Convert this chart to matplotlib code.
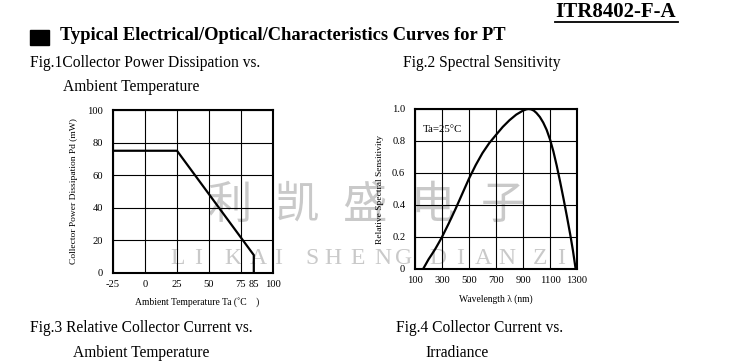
import matplotlib
matplotlib.use("Agg")
import matplotlib.pyplot as plt

W, H = 739, 364

# ---- data ----
# Fig.1 Collector power dissipation vs ambient temperature
temp = [-25, 25, 85, 85]
pd_mw = [75, 75, 11, 0]
fig1_xticks = [-25, 0, 25, 50, 75, 85, 100]
fig1_xgrid = [-25, 0, 25, 50, 75, 100]
fig1_yticks = [0, 20, 40, 60, 80, 100]

# Fig.2 Spectral sensitivity
wavelength = [160, 180, 200, 225, 250, 275, 300, 350, 400, 450, 500, 550, 600,
              650, 700, 750, 800, 850, 900, 925, 940, 960, 980, 1000, 1025,
              1050, 1075, 1100, 1125, 1150, 1175, 1200, 1225, 1250, 1270, 1290]
sensitivity = [0.0, 0.03, 0.06, 0.092, 0.125, 0.162, 0.20, 0.285, 0.375, 0.47,
               0.565, 0.65, 0.725, 0.787, 0.838, 0.888, 0.93, 0.965, 0.99,
               0.998, 1.0, 0.998, 0.99, 0.975, 0.95, 0.915, 0.87, 0.81, 0.735,
               0.645, 0.545, 0.44, 0.33, 0.215, 0.115, 0.0]
fig2_xticks = [100, 300, 500, 700, 900, 1100, 1300]
fig2_yticks = [0, 0.2, 0.4, 0.6, 0.8, 1.0]
fig2_ylabels = ["0", "0.2", "0.4", "0.6", "0.8", "1.0"]

SERIF = "Liberation Serif"
WM = "#c9c9c9"

fig = plt.figure(figsize=(W / 100, H / 100), dpi=100)


def fx(x):
    return x / W


def fy(y):
    return 1 - y / H


def axes_px(l, r, t, b):
    return fig.add_axes([fx(l), fy(b), (r - l) / W, (b - t) / H])


# ---- header ----
fig.text(fx(555), fy(12), "ITR8402-F-A", family=SERIF, weight="bold",
         fontsize=15, ha="left", va="center")
fig.add_artist(plt.Line2D([fx(555), fx(678)], [fy(21.5), fy(21.5)],
                          color="black", lw=1.3))
fig.add_artist(plt.Rectangle((fx(30), fy(45)), 19 / W, 15 / H,
                             color="black"))
fig.text(fx(60), fy(36), "Typical Electrical/Optical/Characteristics Curves for PT",
         family=SERIF, weight="bold", fontsize=13.3, ha="left", va="center")

cap = dict(family=SERIF, fontsize=11.2, ha="left", va="center")
fig.text(fx(30), fy(63), "Fig.1Collector Power Dissipation vs.", **cap)
fig.text(fx(63), fy(87), "Ambient Temperature", **cap)
fig.text(fx(403), fy(63), "Fig.2 Spectral Sensitivity", **cap)
fig.text(fx(30), fy(328), "Fig.3 Relative Collector Current vs.", **cap)
fig.text(fx(73), fy(353), "Ambient Temperature", **cap)
fig.text(fx(396), fy(328), "Fig.4 Collector Current vs.", **cap)
fig.text(fx(425), fy(353), "Irradiance", **cap)

# ---- watermark ----
for ch, x in zip("利凯盛电子", [230, 297, 364, 433, 503]):
    fig.text(fx(x), fy(205), ch, family=["Noto Sans CJK SC", "DejaVu Sans"],
             fontsize=32, color=WM, ha="center", va="center", zorder=-5)
for ch, x in zip("LIKAISHENGDIANZI",
                 [178, 198, 233, 258, 278, 312, 333, 358, 383, 404,
                  438, 460, 483, 507, 540, 561]):
    fig.text(fx(x), fy(258), ch, family=SERIF, fontsize=17, color=WM,
             ha="center", va="center", zorder=-5)


def style_axes(ax):
    ax.set_facecolor("none")
    for s in ax.spines.values():
        s.set_linewidth(1.5)
        s.set_color("black")
    ax.tick_params(length=0, labelsize=7.6)
    for lab in ax.get_xticklabels() + ax.get_yticklabels():
        lab.set_family(SERIF)


# ---- Fig.1 ----
ax1 = axes_px(113, 273, 110, 273)
ax1.plot(temp, pd_mw, color="black", lw=1.6, solid_joinstyle="miter")
ax1.set_xlim(-25, 100)
ax1.set_ylim(0, 100)
for g in fig1_xgrid:
    ax1.axvline(g, color="black", lw=0.8, zorder=1)
for g in fig1_yticks:
    ax1.axhline(g, color="black", lw=0.8, zorder=1)
ax1.set_xticks(fig1_xticks)
ax1.set_xticklabels([str(v) for v in fig1_xticks])
ax1.set_yticks(fig1_yticks)
ax1.set_yticklabels([str(v) for v in fig1_yticks])
ax1.tick_params(axis="y", pad=7)
ax1.tick_params(axis="x", pad=5)
style_axes(ax1)
fig.text(fx(74), fy(191), "Collector Power Dissipation Pd (mW)", family=SERIF,
         fontsize=6.8, rotation=90, ha="center", va="center")
fig.text(fx(197), fy(302), "Ambient Temperature Ta (˚C    )", family=SERIF,
         fontsize=6.9, ha="center", va="center")

# ---- Fig.2 ----
ax2 = axes_px(415, 577, 109, 269)
ax2.plot(wavelength, sensitivity, color="black", lw=1.6,
         solid_joinstyle="round")
ax2.set_xlim(100, 1300)
ax2.set_ylim(0, 1.0)
for g in fig2_xticks:
    ax2.axvline(g, color="black", lw=0.8, zorder=1)
for g in fig2_yticks:
    ax2.axhline(g, color="black", lw=0.8, zorder=1)
ax2.set_xticks(fig2_xticks)
ax2.set_xticklabels([str(v) for v in fig2_xticks])
ax2.set_yticks(fig2_yticks)
ax2.set_yticklabels(fig2_ylabels)
ax2.tick_params(axis="y", pad=7)
ax2.tick_params(axis="x", pad=5)
style_axes(ax2)
ax2.text(0.05, 0.875, "Ta=25°C", transform=ax2.transAxes, family=SERIF,
         fontsize=7.8, ha="left", va="center")
fig.text(fx(380), fy(190), "Relative Spectral Sensitivity", family=SERIF,
         fontsize=6.8, rotation=90, ha="center", va="center")
fig.text(fx(496), fy(299), "Wavelength λ (nm)", family=SERIF,
         fontsize=6.9, ha="center", va="center")

fig.savefig("out.png", dpi=100)
